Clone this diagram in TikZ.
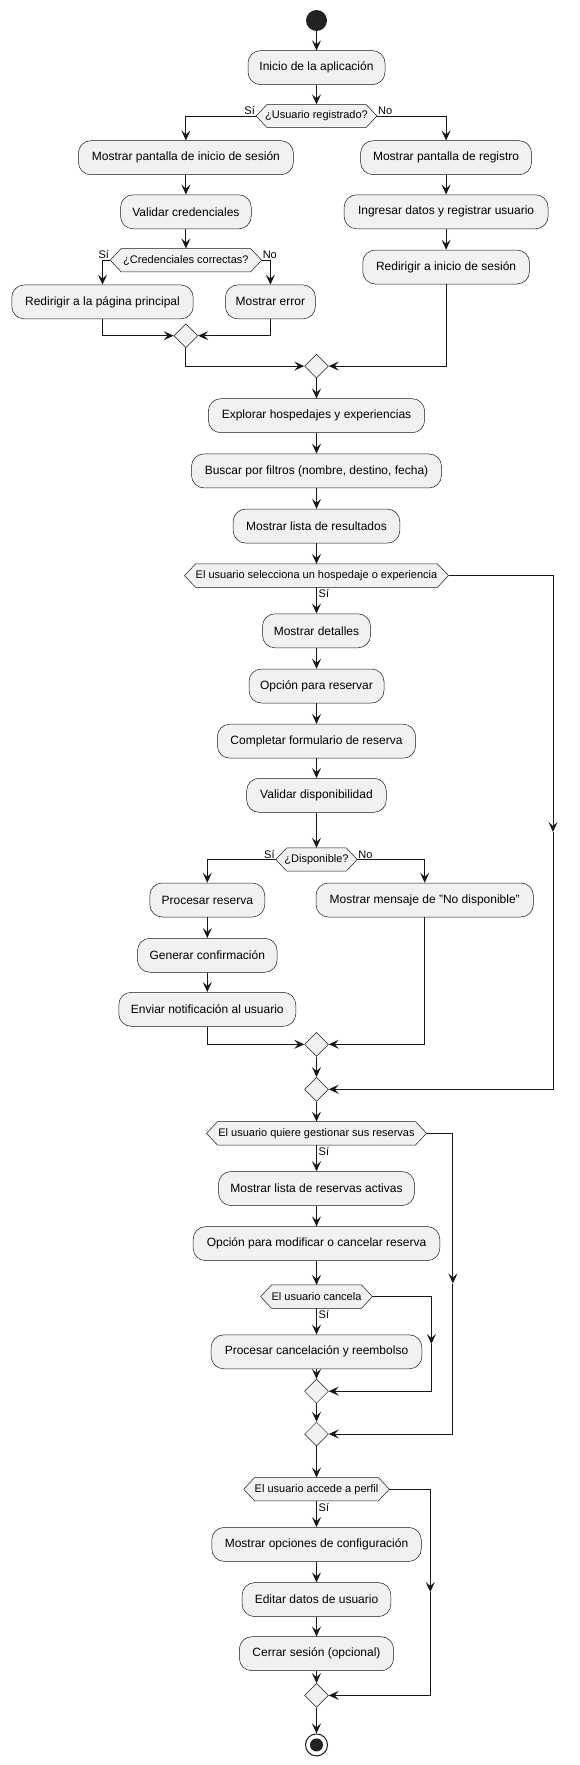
\documentclass[tikz,border=0pt]{standalone}
\usepackage{fontspec}
\setmainfont{Liberation Sans}
\usetikzlibrary{arrows.meta,shapes.geometric,backgrounds,calc}
\definecolor{boxfill}{HTML}{F1F1F1}
\definecolor{ln}{HTML}{181818}
\definecolor{startc}{HTML}{222222}
\newcommand{\hexbg}[1]{\begin{scope}[on background layer]\draw[hexshape] (#1.west) -- ($(#1.north west)+(11,0)$) -- ($(#1.north east)+(-11,0)$) -- (#1.east) -- ($(#1.south east)+(-11,0)$) -- ($(#1.south west)+(11,0)$) -- cycle;\end{scope}}
\begin{document}
\begin{tikzpicture}[x=1pt,y=-1pt,
 act/.style={draw=ln, fill=boxfill, line width=0.5pt, rounded corners=12.5pt, minimum height=34pt, inner xsep=4pt, inner ysep=0pt, font=\fontsize{12}{14}\selectfont, text=black},
 hexn/.style={minimum height=23pt, inner xsep=2pt, inner ysep=0pt, font=\fontsize{11}{13}\selectfont, text=black},
 hexshape/.style={draw=ln, fill=boxfill, line width=0.5pt},
 merge/.style={diamond, draw=ln, fill=boxfill, line width=0.5pt, minimum width=24pt, minimum height=24pt, inner sep=0pt},
 flow/.style={draw=ln, line width=1pt, -{Stealth[length=10pt,width=9pt,inset=4pt]}},
 lbl/.style={font=\fontsize{11}{13}\selectfont, inner sep=1pt, text=black},
]
\begin{scope}[on background layer]
\fill[white] (0,0) rectangle (579,1765);
\end{scope}
\useasboundingbox (0,0) rectangle (579,1765);

% nodes
\node[circle, fill=startc, minimum size=21pt, inner sep=0pt] (start) at (316.5,20.5) {};
\node[act, minimum width=137pt] (inicio) at (316.5,67.6) {Inicio de la aplicación};
\node[hexn, minimum width=120.5pt] (d1) at (316.5,116) {¿Usuario registrado?};
\hexbg{d1}
\node[act, minimum width=215pt] (login) at (185.9,157.7) {Mostrar pantalla de inicio de sesión};
\node[act, minimum width=171pt] (reg) at (446.1,157.7) {Mostrar pantalla de registro};
\node[act, minimum width=130.7pt] (valid) at (185.9,211.8) {Validar credenciales};
\node[act, minimum width=204pt] (ingr) at (446.1,211.8) {Ingresar datos y registrar usuario};
\node[hexn, minimum width=151pt] (d2) at (185.9,260.2) {¿Credenciales correctas?};
\hexbg{d2}
\node[act, minimum width=181.4pt] (redir) at (102.5,301.9) {Redirigir a la página principal};
\node[act, minimum width=90pt] (err) at (270.4,301.9) {Mostrar error};
\node[act, minimum width=166.7pt] (redirl) at (446.1,267) {Redirigir a inicio de sesión};
\node[merge] (m1) at (185.9,335.7) {};
\node[merge] (m2) at (316.5,366.1) {};
\node[act, minimum width=216.3pt] (expl) at (316.5,415.7) {Explorar hospedajes y experiencias};
\node[act, minimum width=250pt] (busc) at (316.5,470.9) {Buscar por filtros (nombre, destino, fecha)};
\node[act, minimum width=166.7pt] (lista) at (316.5,526.1) {Mostrar lista de resultados};
\node[hexn, minimum width=263.6pt] (d3) at (316.5,575.6) {El usuario selecciona un hospedaje o experiencia};
\hexbg{d3}
\node[act, minimum width=108pt] (det) at (316.5,630.8) {Mostrar detalles};
\node[act, minimum width=135pt] (opres) at (316.5,686) {Opción para reservar};
\node[act, minimum width=198.3pt] (compl) at (316.5,741.2) {Completar formulario de reserva};
\node[act, minimum width=139.7pt] (vdisp) at (316.5,795.3) {Validar disponibilidad};
\node[hexn, minimum width=81pt] (d4) at (316.5,859.5) {¿Disponible?};
\hexbg{d4}
\node[act, minimum width=115pt] (proc) at (207.3,900) {Procesar reserva};
\node[act, minimum width=217.4pt] (nodisp) at (424.7,900) {Mostrar mensaje de "No disponible"};
\node[act, minimum width=139.7pt] (gen) at (207.3,955.3) {Generar confirmación};
\node[act, minimum width=177pt] (env) at (207.3,1009.3) {Enviar notificación al usuario};
\node[merge] (m3) at (316.5,1044.3) {};
\node[merge] (m4) at (316.5,1089.3) {};
\node[hexn, minimum width=219.7pt] (d5) at (316.5,1133.3) {El usuario quiere gestionar sus reservas};
\hexbg{d5}
\node[act, minimum width=196pt] (mres) at (316.5,1188.5) {Mostrar lista de reservas activas};
\node[act, minimum width=246.7pt] (opmod) at (316.5,1243.6) {Opción para modificar o cancelar reserva};
\node[hexn, minimum width=111.5pt] (d6) at (316.5,1296.6) {El usuario cancela};
\hexbg{d6}
\node[act, minimum width=210.7pt] (pcanc) at (316.5,1351.8) {Procesar cancelación y reembolso};
\node[merge] (m5) at (316.5,1391.2) {};
\node[merge] (m6) at (316.5,1434) {};
\node[hexn, minimum width=145.3pt] (d7) at (316.5,1489.2) {El usuario accede a perfil};
\hexbg{d7}
\node[act, minimum width=209.5pt] (mop) at (316.5,1544.4) {Mostrar opciones de configuración};
\node[act, minimum width=148.7pt] (edit) at (316.5,1599.6) {Editar datos de usuario};
\node[act, minimum width=154.3pt] (cerr) at (316.5,1653.7) {Cerrar sesión (opcional)};
\node[merge] (m7) at (316.5,1695.4) {};
\node[circle, draw=ln, line width=1pt, fill=white, minimum size=22pt, inner sep=0pt] (fin) at (316.5,1744.9) {};
\fill[startc] (fin.center) circle (6.5pt);

% helper coordinates
\coordinate (r1) at (553,832);
\coordinate (r2) at (452.9,1283.5);
\coordinate (r3) at (431.4,1344);
\coordinate (r4) at (430.3,1592);

% connectors
\draw[flow] (start) -- (inicio);
\draw[flow] (inicio) -- (d1);
\draw[flow] (d1.west) -| (login.north);
\node[lbl, anchor=south east] at (d1.west) {Sí};
\draw[flow] (d1.east) -| (reg.north);
\node[lbl, anchor=south west] at (d1.east) {No};
\draw[flow] (login) -- (valid);
\draw[flow] (valid) -- (d2);
\draw[flow] (d2.west) -| (redir.north);
\node[lbl, anchor=south east] at (d2.west) {Sí};
\draw[flow] (d2.east) -| (err.north);
\node[lbl, anchor=south west] at (d2.east) {No};
\draw[flow] (redir.south) |- (m1.west);
\draw[flow] (err.south) |- (m1.east);
\draw[flow] (reg) -- (ingr);
\draw[flow] (ingr) -- (redirl);
\draw[flow] (m1.south) |- (m2.west);
\draw[flow] (redirl.south) |- (m2.east);
\draw[flow] (m2) -- (expl);
\draw[flow] (expl) -- (busc);
\draw[flow] (busc) -- (lista);
\draw[flow] (lista) -- (d3);
\draw[flow] (d3) -- (det);
\node[lbl, anchor=north west] at ($(d3.south)+(1,1)$) {Sí};
\draw[flow] (d3.east) -| (r1);
\draw[flow] (r1) |- (m4.east);
\draw[flow] (det) -- (opres);
\draw[flow] (opres) -- (compl);
\draw[flow] (compl) -- (vdisp);
\draw[flow] (vdisp) -- (d4);
\draw[flow] (d4.west) -| (proc.north);
\node[lbl, anchor=south east] at (d4.west) {Sí};
\draw[flow] (d4.east) -| (nodisp.north);
\node[lbl, anchor=south west] at (d4.east) {No};
\draw[flow] (proc) -- (gen);
\draw[flow] (gen) -- (env);
\draw[flow] (env.south) |- (m3.west);
\draw[flow] (nodisp.south) |- (m3.east);
\draw[flow] (m3) -- (m4);
\draw[flow] (m4) -- (d5);
\draw[flow] (d5) -- (mres);
\node[lbl, anchor=north west] at ($(d5.south)+(1,1)$) {Sí};
\draw[flow] (d5.east) -| (r2);
\draw[flow] (r2) |- (m6.east);
\draw[flow] (mres) -- (opmod);
\draw[flow] (opmod) -- (d6);
\draw[flow] (d6) -- (pcanc);
\node[lbl, anchor=north west] at ($(d6.south)+(1,1)$) {Sí};
\draw[flow] (d6.east) -| (r3);
\draw[flow] (r3) |- (m5.east);
\draw[flow] (pcanc) -- (m5);
\draw[flow] (m5) -- (m6);
\draw[flow] (m6) -- (d7);
\draw[flow] (d7) -- (mop);
\node[lbl, anchor=north west] at ($(d7.south)+(1,1)$) {Sí};
\draw[flow] (d7.east) -| (r4);
\draw[flow] (r4) |- (m7.east);
\draw[flow] (mop) -- (edit);
\draw[flow] (edit) -- (cerr);
\draw[flow] (cerr) -- (m7);
\draw[flow] (m7) -- (fin);
\end{tikzpicture}
\end{document}
